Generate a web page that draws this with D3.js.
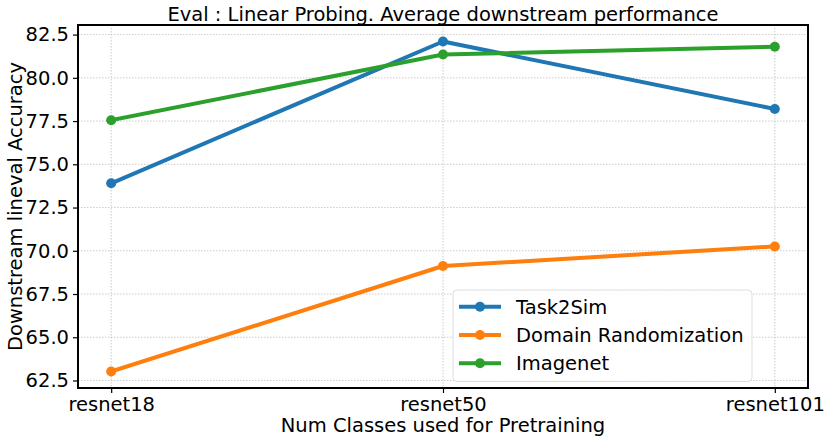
<!DOCTYPE html>
<html><head><meta charset="utf-8">
<script src="https://cdn.jsdelivr.net/npm/d3@7"></script>
<style>
body{margin:0;background:#fff;}
svg{font-family:"DejaVu Sans",sans-serif;}
</style></head>
<body><svg id="c" width="831" height="442"></svg>
<script>
const categories = ["resnet18","resnet50","resnet101"];
const task2sim = [73.9, 82.1, 78.2];
const domainRand = [63.02, 69.12, 70.25];
const imagenet = [77.55, 81.35, 81.8];
const seriesNames = ["Task2Sim","Domain Randomization","Imagenet"];
const seriesColors = ["#1f77b4","#ff7f0e","#2ca02c"];
const yTicks = [62.5,65.0,67.5,70.0,72.5,75.0,77.5,80.0,82.5];

const series = [task2sim, domainRand, imagenet];
const svg = d3.select("#c");
const L=78, R=808, T=25, B=388;
const all = series.flat();
const mn = d3.min(all), mx = d3.max(all), pad=(mx-mn)*0.05;
const y = d3.scaleLinear().domain([mn-pad, mx+pad]).range([B,T]);
const xi = d3.scaleLinear().domain([-0.1, 2.1]).range([L,R]);
const FS = 19.5;

// grid
const g = svg.append("g");
g.selectAll("line.gy").data(yTicks).join("line")
 .attr("x1",L).attr("x2",R).attr("y1",d=>y(d)).attr("y2",d=>y(d))
 .attr("stroke","#b0b0b0").attr("stroke-width",0.8).attr("stroke-dasharray","1.5,1.5").attr("opacity",0.8);
g.selectAll("line.gx").data(categories).join("line")
 .attr("x1",(d,i)=>xi(i)).attr("x2",(d,i)=>xi(i)).attr("y1",T).attr("y2",B)
 .attr("stroke","#b0b0b0").attr("stroke-width",0.8).attr("stroke-dasharray","1.5,1.5").attr("opacity",0.8);

// axes
const yAxis = d3.axisLeft(y).tickValues(yTicks).tickFormat(d3.format(".1f")).tickSize(5).tickPadding(4);
const ya = svg.append("g").attr("transform",`translate(${L},0)`).call(yAxis);
const xAxis = d3.axisBottom(xi).tickValues([0,1,2]).tickFormat(i=>categories[i]).tickSize(5).tickPadding(4);
const xa = svg.append("g").attr("transform",`translate(0,${B})`).call(xAxis);
[ya,xa].forEach(a=>{a.select(".domain").remove();a.selectAll("text").attr("font-size",FS).attr("fill","#000").attr("font-family","DejaVu Sans");a.selectAll("line").attr("stroke","#000").attr("stroke-width",1.2);});

// lines
const line = d3.line().x((d,i)=>xi(i)).y(d=>y(d));
series.forEach((s,k)=>{
  svg.append("path").datum(s).attr("d",line).attr("fill","none").attr("stroke",seriesColors[k]).attr("stroke-width",4).attr("stroke-linejoin","round").attr("stroke-linecap","square");
  svg.selectAll(null).data(s).join("circle").attr("cx",(d,i)=>xi(i)).attr("cy",d=>y(d)).attr("r",5).attr("fill",seriesColors[k]);
});

// frame
svg.append("rect").attr("x",L).attr("y",T).attr("width",R-L).attr("height",B-T).attr("fill","none").attr("stroke","#000").attr("stroke-width",2);

// title & labels
svg.append("text").attr("x",(L+R)/2).attr("y",21).attr("text-anchor","middle").attr("font-size",FS).text("Eval : Linear Probing. Average downstream performance");
svg.append("text").attr("x",(L+R)/2).attr("y",432).attr("text-anchor","middle").attr("font-size",FS).text("Num Classes used for Pretraining");
svg.append("text").attr("transform",`translate(22,${(T+B)/2}) rotate(-90)`).attr("text-anchor","middle").attr("font-size",FS).text("Downstream lineval Accuracy");

// legend
const lg = svg.append("g");
lg.append("rect").attr("x",453).attr("y",290).attr("width",299).attr("height",91.5).attr("rx",4).attr("fill","#fff").attr("fill-opacity",0.8).attr("stroke","#ddd").attr("stroke-width",1);
seriesNames.forEach((n,k)=>{
  const yy = 306.7 + k*28.3;
  lg.append("line").attr("x1",459).attr("x2",501).attr("y1",yy).attr("y2",yy).attr("stroke",seriesColors[k]).attr("stroke-width",4);
  lg.append("circle").attr("cx",480).attr("cy",yy).attr("r",5).attr("fill",seriesColors[k]);
  lg.append("text").attr("x",516).attr("y",yy+7).attr("font-size",FS).text(n);
});
</script></body></html>
